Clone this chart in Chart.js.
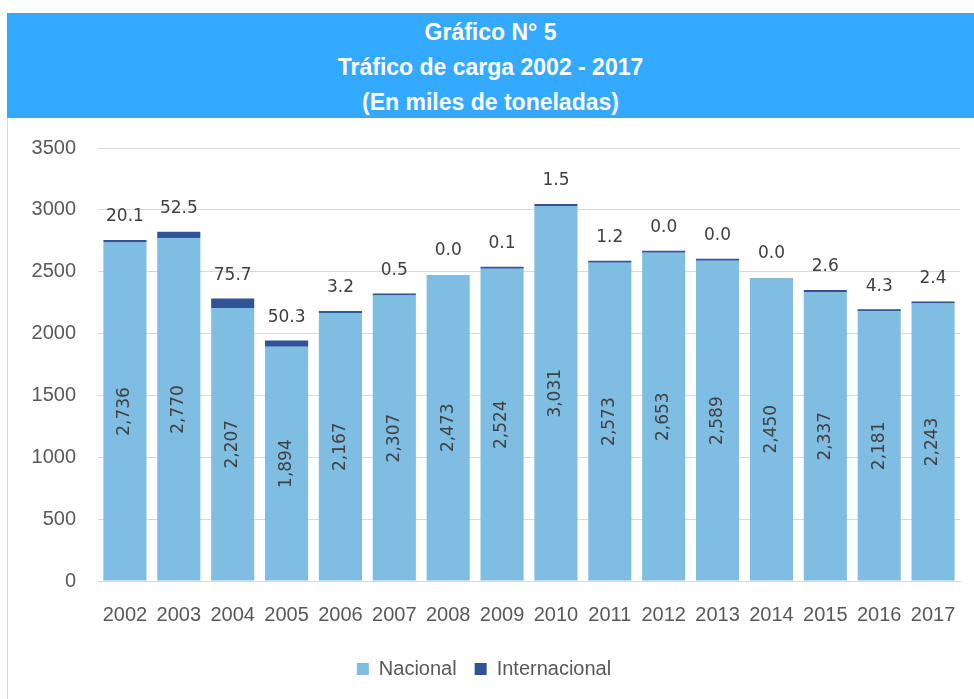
<!DOCTYPE html>
<html>
<head>
<meta charset="utf-8">
<script src="https://cdn.jsdelivr.net/npm/chart.js@4.4.1/dist/chart.umd.min.js"></script>
<style>
  html, body { margin: 0; padding: 0; background: #fff; }
  body { width: 974px; height: 699px; position: relative; overflow: hidden; }
  .banda {
    position: absolute; left: 7px; top: 13px; width: 967px; height: 105px;
    background: #33aaff; color: #fff; text-align: center;
    font-family: "Liberation Sans", sans-serif;
    font-weight: bold; font-size: 23px; line-height: 35px; padding-top: 2px;
    box-sizing: border-box;
  }
  .marco {
    position: absolute; left: 7px; top: 118px; width: 967px; height: 581px;
    border-left: 1px solid #d9d9d9; box-sizing: border-box;
  }
  #grafico-carga { position: absolute; left: 8px; top: 114px; }
</style>
</head>
<body>
<div class="marco"></div>
<div class="banda">
  <div>Gráfico N° 5</div>
  <div>Tráfico de carga 2002 - 2017</div>
  <div>(En miles de toneladas)</div>
</div>
<canvas id="grafico-carga" width="966" height="585"></canvas>
<script>
const anios = ['2002', '2003', '2004', '2005', '2006', '2007', '2008', '2009',
               '2010', '2011', '2012', '2013', '2014', '2015', '2016', '2017'];
const nacional = [2736, 2770, 2207, 1894, 2167, 2307, 2473, 2524,
                  3031, 2573, 2653, 2589, 2450, 2337, 2181, 2243];
const internacional = [20.1, 52.5, 75.7, 50.3, 3.2, 0.5, 0.0, 0.1,
                       1.5, 1.2, 0.04, 0.03, 0.0, 2.6, 4.3, 2.4];

// etiquetas de datos dibujadas a mano (sin plugin externo)
const etiquetas = {
    id: 'etiquetas',
    afterDatasetsDraw(chart) {
        const ctx = chart.ctx;
        ctx.save();
        ctx.fillStyle = '#404040';
        ctx.font = '17px "DejaVu Sans"';
        ctx.textAlign = 'center';
        ctx.textBaseline = 'middle';

        chart.getDatasetMeta(0).data.forEach((bar, i) => {
            const yMid = (bar.y + bar.base) / 2;
            ctx.save();
            ctx.translate(bar.x, yMid);
            ctx.rotate(-Math.PI / 2);
            ctx.fillText(nacional[i].toLocaleString('en-US'), 0, 0);
            ctx.restore();
        });

        chart.getDatasetMeta(1).data.forEach((bar, i) => {
            ctx.fillText(internacional[i].toFixed(1), bar.x, bar.y - 23);
        });
        ctx.restore();
    }
};

const ctx = document.getElementById('grafico-carga').getContext('2d');
new Chart(ctx, {
    type: 'bar',
    data: {
        labels: anios,
        datasets: [{
            label: 'Nacional',
            data: nacional,
            backgroundColor: '#7fbde3',
            barPercentage: 0.8,
            categoryPercentage: 1
        }, {
            label: 'Internacional',
            data: internacional,
            backgroundColor: c => internacional[c.dataIndex] === 0 ? 'rgba(0,0,0,0)' : '#2f5597',
            minBarLength: 2,
            barPercentage: 0.8,
            categoryPercentage: 1
        }]
    },
    options: {
        responsive: false,
        animation: false,
        layout: { padding: { top: 14, right: 14, bottom: 10, left: 0 } },
        scales: {
            x: {
                stacked: true,
                grid: { display: false },
                border: { color: '#d9d9d9' },
                ticks: {
                    color: '#595959',
                    padding: 14,
                    maxRotation: 0,
                    autoSkip: false,
                    font: { family: '"Liberation Sans", sans-serif', size: 20 }
                }
            },
            y: {
                stacked: true,
                min: 0,
                max: 3500,
                afterFit: s => { s.width = 90; },
                grid: { color: '#d9d9d9', drawTicks: false },
                border: { display: false },
                ticks: {
                    stepSize: 500,
                    color: '#595959',
                    padding: 22,
                    callback: v => String(v),
                    font: { family: '"Liberation Sans", sans-serif', size: 20 }
                }
            }
        },
        plugins: {
            legend: {
                position: 'bottom',
                labels: {
                    color: '#595959',
                    boxWidth: 12,
                    boxHeight: 12,
                    padding: 18,
                    font: { family: '"Liberation Sans", sans-serif', size: 20 }
                }
            },
            tooltip: { enabled: false }
        }
    },
    plugins: [etiquetas]
});
</script>
</body>
</html>
